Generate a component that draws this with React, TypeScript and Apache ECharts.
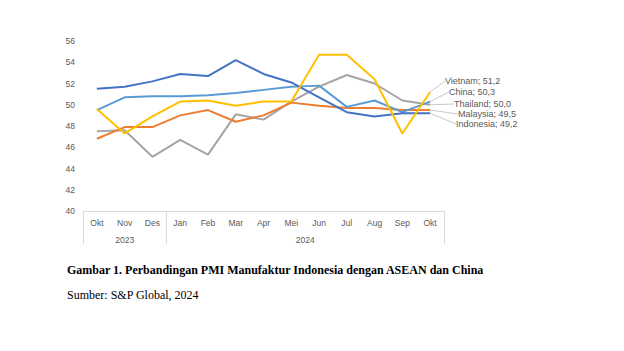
import React, { useEffect, useRef } from "react";
import * as echarts from "echarts";

const months = ["Okt", "Nov", "Des", "Jan", "Feb", "Mar", "Apr", "Mei", "Jun", "Jul", "Aug", "Sep", "Okt"];
const years = ["2023", "2024"];
const indonesia = [51.5, 51.7, 52.2, 52.9, 52.7, 54.2, 52.9, 52.1, 50.7, 49.3, 48.9, 49.2, 49.2];
const china = [49.5, 50.7, 50.8, 50.8, 50.9, 51.1, 51.4, 51.7, 51.8, 49.8, 50.4, 49.3, 50.3];
const vietnam = [49.6, 47.3, 48.9, 50.3, 50.4, 49.9, 50.3, 50.3, 54.7, 54.7, 52.4, 47.3, 51.2];
const thailand = [47.5, 47.6, 45.1, 46.7, 45.3, 49.1, 48.6, 50.3, 51.7, 52.8, 52.0, 50.4, 50.0];
const malaysia = [46.8, 47.9, 47.9, 49.0, 49.5, 48.4, 49.0, 50.2, 49.9, 49.7, 49.7, 49.5, 49.5];

const caption = "Gambar 1. Perbandingan PMI Manufaktur Indonesia dengan ASEAN dan China";
const source = "Sumber: S&P Global, 2024";

const FONT = "Liberation Sans";
const GRAY = "#595959";

function makeSeries(name: string, values: number[], color: string, lx: number, ly: number) {
  const last = values.length - 1;
  const label = name + "; " + values[last].toFixed(1).replace(".", ",");
  return {
    name,
    type: "line",
    data: values.map((v, i) =>
      i === last
        ? { value: v, label: { show: true, formatter: label } }
        : { value: v }
    ),
    symbol: "circle",
    symbolSize: 0,
    showSymbol: true,
    lineStyle: { color, width: 2 },
    itemStyle: { color },
    label: {
      show: false,
      color: GRAY,
      fontFamily: FONT,
      fontSize: 9,
    },
    labelLine: {
      show: true,
      lineStyle: { color: "#C8C8C8", width: 1 },
    },
    labelLayout: { x: lx, y: ly, align: "left", verticalAlign: "middle" },
    emphasis: { disabled: true },
  };
}

export default function App() {
  const ref = useRef<HTMLDivElement>(null);
  useEffect(() => {
    if (!ref.current) return;
    const chart = echarts.init(ref.current, undefined, { renderer: "svg" });
    chart.setOption({
      animation: false,
      backgroundColor: "#ffffff",
      title: [
        {
          text: caption,
          left: 67,
          top: 264,
          padding: 0,
          textStyle: { fontFamily: "Liberation Serif", fontWeight: "bold", fontSize: 12, color: "#000" },
        },
        {
          text: source,
          left: 67,
          top: 289,
          padding: 0,
          textStyle: { fontFamily: "Liberation Serif", fontWeight: "normal", fontSize: 12, color: "#000" },
        },
      ],
      grid: { left: 83, right: 180, top: 41, bottom: 140, containLabel: false },
      yAxis: {
        type: "value",
        min: 40,
        max: 56,
        interval: 2,
        axisLine: { show: false },
        axisTick: { show: false },
        splitLine: { show: false },
        axisLabel: { color: GRAY, fontFamily: FONT, fontSize: 8.5, margin: 8 },
      },
      xAxis: [
        {
          type: "category",
          data: months,
          boundaryGap: true,
          axisLine: { lineStyle: { color: "#D9D9D9", width: 1 } },
          axisTick: { show: false },
          axisLabel: { color: GRAY, fontFamily: FONT, fontSize: 8.5, margin: 7, interval: 0 },
        },
        {
          type: "value",
          min: -0.5,
          max: 12.5,
          position: "bottom",
          axisLine: { show: false },
          splitLine: { show: false },
          axisTick: {
            show: true,
            customValues: [-0.5, 2.5, 12.5],
            length: 33,
            lineStyle: { color: "#D9D9D9", width: 1 },
          },
          axisLabel: {
            customValues: [1, 7.5],
            formatter: (v: number) => (v < 2.5 ? years[0] : years[1]),
            color: GRAY,
            fontFamily: FONT,
            fontSize: 8.5,
            margin: 24,
            showMinLabel: true,
            showMaxLabel: true,
          },
        },
      ],
      series: [
        makeSeries("Thailand", thailand, "#A5A5A5", 454, 104),
        makeSeries("Malaysia", malaysia, "#ED7D31", 458, 114),
        makeSeries("China", china, "#5B9BD5", 449, 92),
        makeSeries("Indonesia", indonesia, "#4472C4", 456, 124),
        makeSeries("Vietnam", vietnam, "#FFC000", 445, 81),
      ],
    });
    return () => chart.dispose();
  }, []);
  return (
    <div
      ref={ref}
      style={{ position: "fixed", left: 0, top: 0, width: 624, height: 351, background: "#fff" }}
    />
  );
}
